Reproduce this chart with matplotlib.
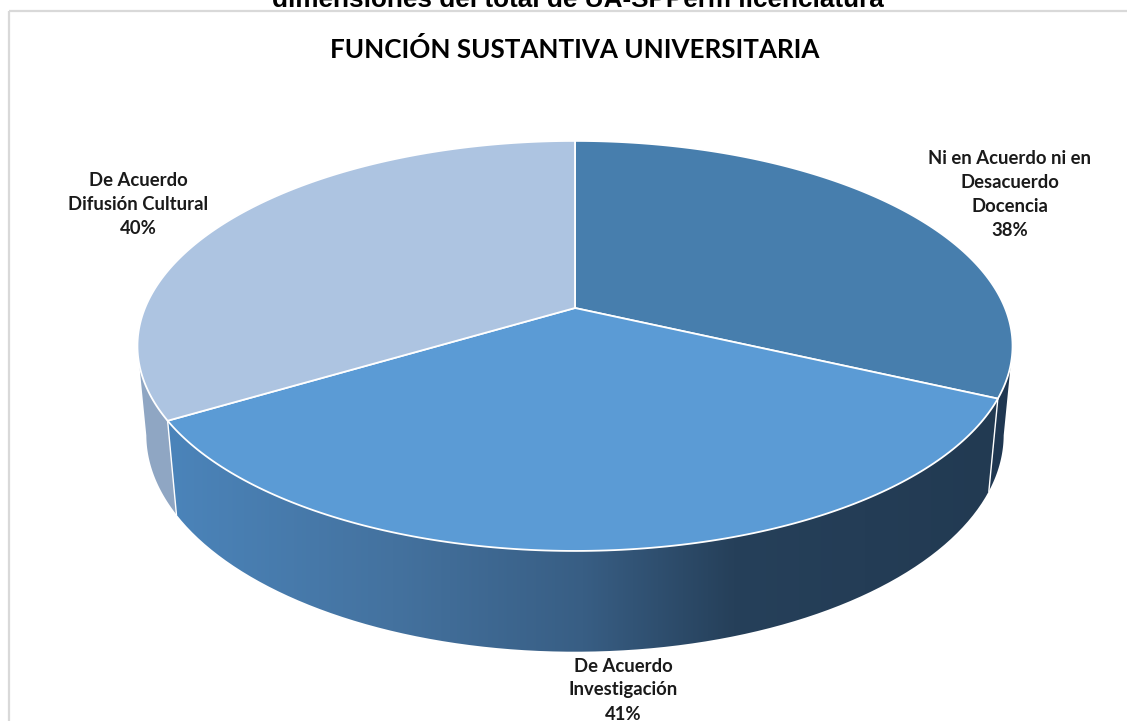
import numpy as np
import matplotlib.pyplot as plt
from matplotlib.patches import Polygon, Rectangle
from matplotlib.colors import LinearSegmentedColormap

# Data
categories = ['Ni en Acuerdo ni en\nDesacuerdo\nDocencia',
              'De Acuerdo\nInvestigación',
              'De Acuerdo\nDifusión Cultural']
values = [38, 41, 40]
top_colors = ['#477EAD', '#5B9BD5', '#ADC4E1']
wall_colors = ['#1F3751', None, '#8FA6C3']
title = 'FUNCIÓN SUSTANTIVA UNIVERSITARIA'
header = 'dimensiones del total de UA-SPPerm licenciatura'

# Geometry of the 3D pie (pixels)
CX, CY = 575, 308
A, B, K = 430, 198, 0.185
DEPTH, M = 89, 0.02
label_pos = [(1010, 194), (623, 690), (138, 205)]


def project(t_deg, d=0.0):
    t = np.radians(t_deg)
    u, v = np.cos(t), np.sin(t)
    w = 1 + K * v + M * d
    return CX + A * u / w, CY + (-B * v + DEPTH * d) / w


fig = plt.figure(figsize=(11.27, 7.21), dpi=100)
ax = fig.add_axes([0, 0, 1, 1])
ax.set_xlim(0, 1127)
ax.set_ylim(721, 0)
ax.axis('off')

# slice angles (start at top, clockwise)
total = sum(values)
bounds = [90.0]
for v in values:
    bounds.append(bounds[-1] - v / total * 360)

# visible wall range (silhouette of the cylinder)
sil = np.degrees(np.arcsin(K))
vis_lo, vis_hi = -180 + sil, -sil

# walls
grad = LinearSegmentedColormap.from_list(
    'wall', [(0, '#4B84BA'), (0.27, '#44729F'), (0.5, '#385E84'),
             (0.68, '#26405A'), (1, '#223A52')])
for i in range(len(values)):
    hi, lo = bounds[i], bounds[i + 1]
    a, b = max(lo, vis_lo), min(hi, vis_hi)
    if a >= b:
        continue
    ts = np.linspace(b, a, 80)
    top = np.array([project(t, 0) for t in ts])
    bot = np.array([project(t, 1) for t in ts[::-1]])
    pts = np.vstack([top, bot])
    if wall_colors[i] is None:
        poly = Polygon(pts, closed=True, facecolor='none', edgecolor='none')
        ax.add_patch(poly)
        x0, x1 = pts[:, 0].min(), pts[:, 0].max()
        y0, y1 = pts[:, 1].min(), pts[:, 1].max()
        img = grad(np.linspace(0, 1, 256))[None, :, :]
        im = ax.imshow(img, extent=(x0, x1, y1, y0), aspect='auto',
                       interpolation='bilinear', zorder=1)
        im.set_clip_path(poly)
    else:
        ax.add_patch(Polygon(pts, closed=True, facecolor=wall_colors[i],
                             edgecolor='none', zorder=1))

# vertical white seams between walls
for t in bounds[1:-1]:
    if vis_lo <= t <= vis_hi:
        p0, p1 = project(t, 0), project(t, 1)
        ax.plot([p0[0], p1[0]], [p0[1], p1[1]], color='white', lw=1.0, zorder=2)

# top faces
for i in range(len(values)):
    ts = np.linspace(bounds[i], bounds[i + 1], 150)
    arc = np.array([project(t, 0) for t in ts])
    pts = np.vstack([[CX, CY], arc])
    ax.add_patch(Polygon(pts, closed=True, facecolor=top_colors[i],
                         edgecolor='white', lw=1.3, joinstyle='round', zorder=3))

# labels
for i, (x, y) in enumerate(label_pos):
    ax.text(x, y, f'{categories[i]}\n{values[i]}%', ha='center', va='center',
            fontsize=13.3, fontweight='bold', family='Lato', color='#1a1a1a',
            linespacing=1.5, zorder=5)

ax.text(CX, 49, title, ha='center', va='center', fontsize=18.7,
        fontweight='bold', family='Lato', color='black')

# cut-off header above the chart frame
ax.text(578, 7, header, ha='center', va='baseline', fontsize=18.8,
        fontweight='bold', family='Liberation Sans', color='black', clip_on=False)

# chart frame
ax.add_patch(Rectangle((9, 11), 1200, 800, facecolor='none',
                       edgecolor='#D9D9D9', lw=1.6, zorder=0))

fig.savefig('out.png', dpi=100)
